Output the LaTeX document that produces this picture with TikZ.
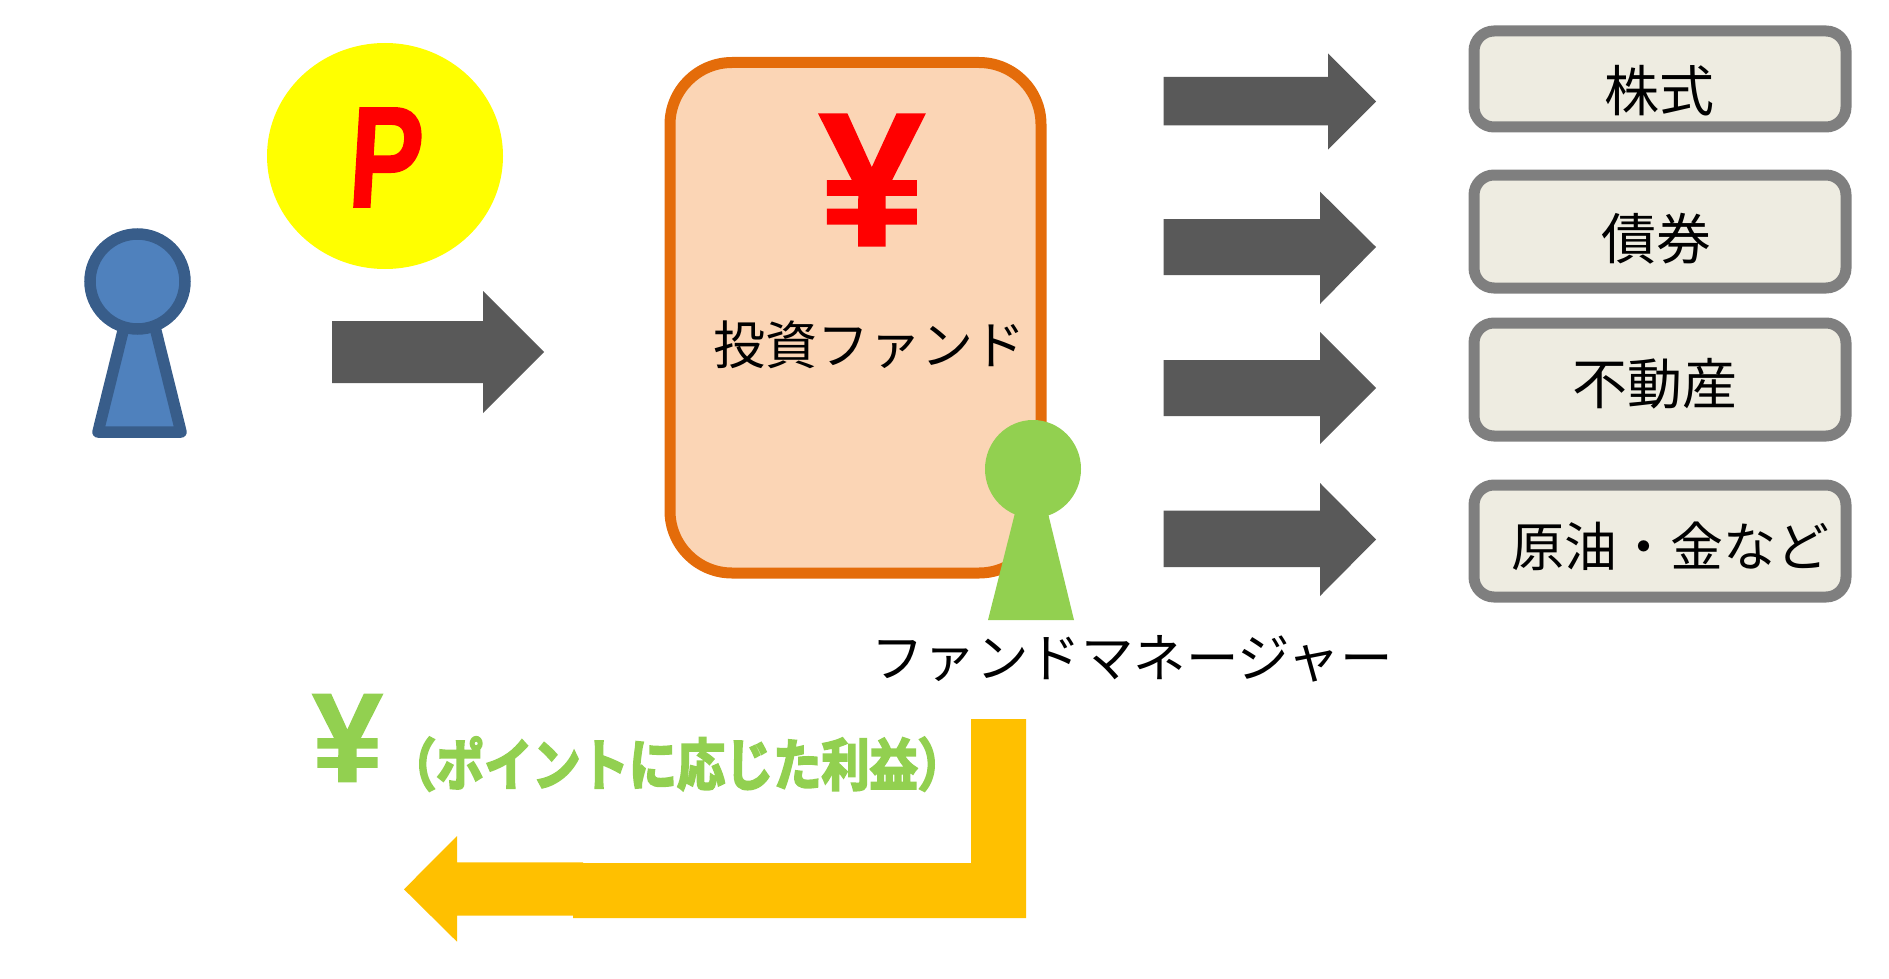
\documentclass[tikz,border=0pt]{standalone}
\usepackage{fontspec}
\usetikzlibrary{shapes.geometric}
\setmainfont{Liberation Sans}
\newfontfamily\jp{Noto Sans CJK JP}
\newfontfamily\jpb[FakeBold=4]{Noto Sans CJK JP Bold}
\newfontfamily\heavy[FakeBold=1.2]{Liberation Sans Bold}
\definecolor{bluefill}{HTML}{4F81BD}
\definecolor{blueline}{HTML}{385D8A}
\definecolor{darkarrow}{HTML}{595959}
\definecolor{fundfill}{HTML}{FBD5B5}
\definecolor{fundline}{HTML}{E46C0A}
\definecolor{mgr}{HTML}{92D050}
\definecolor{boxfill}{HTML}{EEECE1}
\definecolor{boxline}{HTML}{7F7F7F}
\definecolor{ret}{HTML}{FFC000}
\definecolor{coinfill}{RGB}{255,255,0}
\definecolor{redmark}{RGB}{255,0,0}
\tikzset{
  darkblock/.style={fill=darkarrow,draw=none},
  assetbox/.style={draw=boxline,fill=boxfill,line width=11pt,rounded corners=20pt},
  label/.style={inner sep=0pt,outer sep=0pt,text=black,font=\jp\fontsize{52.5}{52.5}\selectfont},
  assetlabel/.style={inner sep=0pt,outer sep=0pt,text=black,font=\jp\fontsize{55}{55}\selectfont},
  big/.style={inner sep=0pt,outer sep=0pt}
}
\begin{document}
\begin{tikzpicture}[x=1pt,y=-1pt]
\useasboundingbox (0,0) rectangle (1889,979);
% investor
\draw[fill=bluefill,draw=blueline,line width=11.5pt,line join=round] (127,315) -- (98,432) -- (181,432) -- (152,315) -- cycle;
\node[circle,fill=bluefill,draw=blueline,line width=11.5pt,minimum size=95pt,inner sep=0pt] (investor) at (137.5,281.5) {};
% point coin
\node[ellipse,fill=coinfill,minimum width=236pt,minimum height=226pt,inner sep=0pt] (coin) at (385,156) {};
\node[big,text=redmark,font=\heavy\fontsize{144}{144}\selectfont,xscale=.77,xslant=.08] (ptext) at (386.5,157.5) {P};
% in arrow
\draw[darkblock] (332,321) -- (483,321) -- (483,291) -- (544,352) -- (483,413) -- (483,383) -- (332,383) -- cycle;
% fund
\draw[draw=fundline,fill=fundfill,line width=11pt,rounded corners=62pt] (670,62.5) rectangle (1041,573);
\node[big,text=redmark,font=\heavy\fontsize{190}{190}\selectfont] (yen) at (872,180) {¥};
\node[label,font=\jp\fontsize{52}{52}\selectfont] (fund) at (869,345) {投資ファンド};
% manager
\fill[mgr] (1017,505) -- (988,620) -- (1074,620) -- (1046,505) -- cycle;
\node[ellipse,fill=mgr,minimum width=96pt,minimum height=98pt,inner sep=0pt] (manager) at (1033,469) {};
\node[label] (mgrlabel) at (1132,659) {ファンドマネージャー};
% out arrows
\draw[darkblock] (1163.5,77) -- (1328,77) -- (1328,53.5) -- (1376,101.5) -- (1328,149.5) -- (1328,125.5) -- (1163.5,125.5) -- cycle;
\draw[darkblock] (1163.5,219) -- (1320,219) -- (1320,191.6) -- (1376,247) -- (1320,304) -- (1320,275) -- (1163.5,275) -- cycle;
\draw[darkblock] (1163.5,360) -- (1320,360) -- (1320,332) -- (1376,388) -- (1320,444) -- (1320,416) -- (1163.5,416) -- cycle;
\draw[darkblock] (1163.5,510.7) -- (1320,510.7) -- (1320,483) -- (1376,539.5) -- (1320,596) -- (1320,567) -- (1163.5,567) -- cycle;
% assets
\draw[assetbox] (1474,31) rectangle (1846,127);
\draw[assetbox] (1474,175) rectangle (1846,288);
\draw[assetbox] (1474,323) rectangle (1846,436);
\draw[assetbox] (1474,485) rectangle (1846,597);
\node[assetlabel] (a1) at (1659.5,91) {株式};
\node[assetlabel] (a2) at (1656,238.5) {債券};
\node[assetlabel] (a3) at (1654.5,384) {不動産};
\node[assetlabel,font=\jp\fontsize{53}{53}\selectfont] (a4) at (1670.5,546) {原油・金など};
% return
\node[big,text=mgr,font=\heavy\fontsize{127}{127}\selectfont] (gyen) at (347.5,738) {¥};
\node[big,text=mgr,font=\jpb\fontsize{56}{56}\selectfont,xscale=.86] (gtext) at (677,764) {（ポイントに応じた利益）};
\fill[ret] (971,719) -- (1026,719) -- (1026,918) -- (573,918) -- (573,915.7) -- (457,915.7) -- (457,941.7) -- (404,889.3) -- (457,836) -- (457,862.3) -- (583,862.3) -- (583,863) -- (971,863) -- cycle;
\end{tikzpicture}
\end{document}
